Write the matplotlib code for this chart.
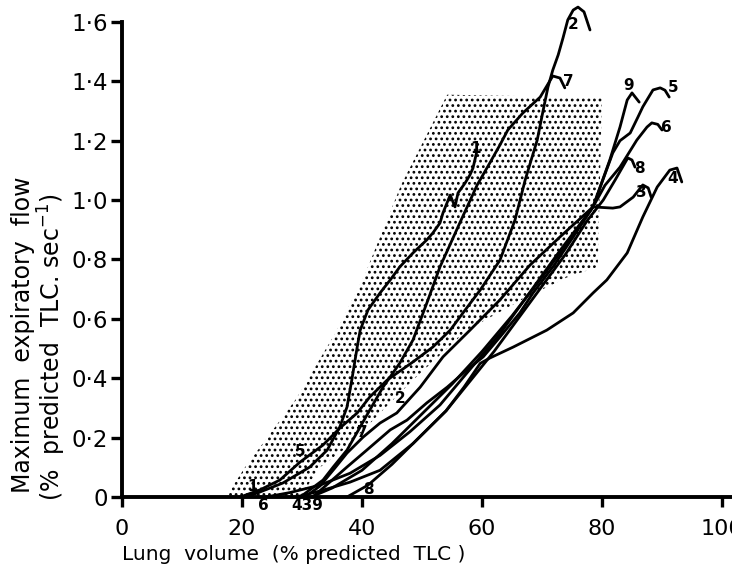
import matplotlib
matplotlib.use("Agg")
import matplotlib.pyplot as plt
from matplotlib.patches import Polygon

# ---------------- data ----------------
# curve 1
c1_x = [20.5, 22.5, 26.8, 31.3, 34.2, 36.3, 37.5, 38.3, 39.2, 39.7, 41.0, 43.0, 44.7, 46.3,
        48.5, 50.8, 51.8, 53.0, 53.5, 54.7, 55.5, 56.0, 57.2, 58.0, 58.5, 59.2]
c1_y = [0.0, 0.013, 0.047, 0.101, 0.158, 0.236, 0.303, 0.394, 0.505, 0.562, 0.630, 0.687, 0.731, 0.775,
        0.822, 0.866, 0.889, 0.923, 0.957, 1.017, 0.977, 1.024, 1.058, 1.085, 1.108, 1.169]
# curve 2
c2_x = [19.7, 23.0, 26.3, 29.7, 33.5, 36.3, 39.2, 41.3, 44.2, 48.5, 51.8, 54.7, 57.2, 59.7,
        63.0, 65.5, 67.2, 69.2, 70.2, 71.0, 71.8, 72.7, 73.5, 74.3, 75.2, 76.0, 77.0, 78.0]
c2_y = [0.0, 0.024, 0.057, 0.118, 0.175, 0.232, 0.283, 0.337, 0.394, 0.455, 0.505, 0.562, 0.630, 0.697,
        0.798, 0.933, 1.068, 1.202, 1.303, 1.381, 1.438, 1.489, 1.546, 1.607, 1.640, 1.650, 1.634, 1.573]
# curve 3
c3_x = [30.5, 33.0, 35.5, 37.5, 40.2, 43.0, 45.8, 49.7, 53.5, 58.0, 63.0, 68.0, 73.0, 78.5,
        81.8, 83.0, 85.2, 86.8, 87.7, 88.2]
c3_y = [0.0, 0.037, 0.098, 0.148, 0.202, 0.249, 0.283, 0.370, 0.472, 0.562, 0.664, 0.781, 0.876, 0.977,
        0.973, 0.977, 1.010, 1.051, 1.041, 1.010]
# curve 4
c4_x = [29.0, 33.0, 38.0, 43.0, 48.5, 54.0, 57.0, 59.7, 61.3, 65.2, 70.8, 75.2, 78.5, 80.8,
        84.2, 86.8, 89.2, 91.3, 92.5, 93.3]
c4_y = [0.0, 0.02, 0.05, 0.09, 0.18, 0.29, 0.37, 0.45, 0.468, 0.505, 0.562, 0.62, 0.687, 0.731,
        0.822, 0.943, 1.044, 1.101, 1.108, 1.061]
# curve 5
c5_x = [31.5, 35.0, 40.0, 45.0, 50.0, 55.0, 60.0, 65.0, 70.0, 74.0, 78.5, 80.0, 81.8, 83.0,
        84.7, 86.0, 86.8, 88.5, 89.7, 90.5, 91.2]
c5_y = [0.0, 0.03, 0.09, 0.18, 0.28, 0.38, 0.49, 0.61, 0.74, 0.85, 0.977, 1.06, 1.159, 1.20,
        1.226, 1.28, 1.314, 1.371, 1.378, 1.37, 1.347]
# curve 6
c6_x = [24.0, 28.0, 33.0, 38.0, 43.0, 48.0, 53.0, 58.0, 63.0, 68.0, 73.0, 78.5, 80.5, 83.0,
        85.8, 87.5, 88.3, 89.3, 90.0]
c6_y = [0.0, 0.015, 0.04, 0.08, 0.14, 0.22, 0.31, 0.43, 0.55, 0.69, 0.83, 0.977, 1.05, 1.111,
        1.202, 1.246, 1.26, 1.255, 1.236]
# curve 7
c7_x = [29.7, 31.3, 33.5, 35.2, 37.5, 39.7, 41.3, 43.5, 46.3, 48.5, 50.8, 53.0, 56.3, 59.2,
        61.3, 63.0, 64.3, 66.8, 69.7, 71.8, 73.0, 73.8]
c7_y = [0.0, 0.024, 0.057, 0.101, 0.158, 0.236, 0.293, 0.370, 0.451, 0.529, 0.653, 0.775, 0.923, 1.051,
        1.125, 1.186, 1.236, 1.293, 1.347, 1.418, 1.411, 1.378]
# curve 8
c8_x = [37.5, 41.0, 45.0, 49.0, 54.0, 58.0, 62.0, 66.0, 70.0, 74.0, 77.5, 80.2, 82.2, 84.3, 85.0, 85.5]
c8_y = [0.0, 0.04, 0.11, 0.19, 0.29, 0.39, 0.49, 0.60, 0.71, 0.82, 0.93, 1.0, 1.068, 1.142, 1.135, 1.111]
# curve 9
c9_x = [31.8, 37.5, 40.8, 44.7, 47.5, 50.8, 54.2, 57.5, 60.2, 63.0, 66.3, 68.5, 72.0, 75.0, 78.5,
        81.3, 83.0, 84.2, 85.0, 86.2]
c9_y = [0.0, 0.101, 0.158, 0.226, 0.259, 0.317, 0.370, 0.428, 0.472, 0.539, 0.620, 0.687, 0.78, 0.87, 0.977,
        1.135, 1.246, 1.337, 1.361, 1.33]

# normal range (stippled area)
shade_x = [17.3, 20.5, 29.0, 35.5, 40.5, 46.5, 54.2, 80.0, 79.3, 74.2, 67.5, 57.5, 48.5, 43.0, 37.5, 33.0, 29.7]
shade_y = [0.0, 0.10, 0.33, 0.55, 0.75, 1.05, 1.355, 1.345, 0.775, 0.74, 0.674, 0.562, 0.394, 0.283, 0.168, 0.10, 0.0]

# curve number labels
label_text = ["2", "7", "9", "5", "6", "8", "3", "4", "1", "2", "7", "5", "1", "6", "439", "8"]
label_x = [75.2, 74.4, 84.5, 91.8, 90.8, 86.3, 86.6, 91.8, 58.9, 46.3, 40.0, 29.7, 21.7, 23.5, 30.8, 41.0]
label_y = [1.59, 1.40, 1.385, 1.378, 1.243, 1.108, 1.024, 1.074, 1.175, 0.333, 0.216, 0.152, 0.034, -0.027,
           -0.027, 0.024]

xticks = [0, 20, 40, 60, 80, 100]
xtick_labels = ["0", "20", "40", "60", "80", "100"]
yticks = [0, 0.2, 0.4, 0.6, 0.8, 1.0, 1.2, 1.4, 1.6]
ytick_labels = ["0", "0·2", "0·4", "0·6", "0·8", "1·0", "1·2", "1·4", "1·6"]

# ---------------- drawing ----------------
plt.rcParams['font.family'] = ['DejaVu Sans']
plt.rcParams['hatch.linewidth'] = 1.2
plt.rcParams['hatch.color'] = 'black'

fig = plt.figure(figsize=(7.32, 5.66), dpi=100)
ax = fig.add_axes([122 / 732, 69 / 566, 609 / 732, 481 / 566])
ax.set_xlim(0, 101.5)
ax.set_ylim(0, 1.62)

shade = Polygon(list(zip(shade_x, shade_y)), closed=True, facecolor='none',
                edgecolor='black', hatch='...', linewidth=0, zorder=1)
ax.add_patch(shade)

curves = [(c1_x, c1_y), (c2_x, c2_y), (c3_x, c3_y), (c4_x, c4_y), (c5_x, c5_y),
          (c6_x, c6_y), (c7_x, c7_y), (c8_x, c8_y), (c9_x, c9_y)]
for cx, cy in curves:
    ax.plot(cx, cy, color='black', lw=2.0, solid_capstyle='round',
            solid_joinstyle='round', zorder=3, clip_on=False)

for t, lx, ly in zip(label_text, label_x, label_y):
    ax.text(lx, ly, t, fontsize=11, fontweight='bold', ha='center', va='center',
            zorder=4, clip_on=False)

for s in ['top', 'right']:
    ax.spines[s].set_visible(False)
ax.spines['left'].set_linewidth(2.8)
ax.spines['bottom'].set_linewidth(2.8)
ax.spines['left'].set_bounds(0, 1.6)

ax.set_xticks(xticks)
ax.set_xticklabels(xtick_labels)
ax.set_yticks(yticks)
ax.set_yticklabels(ytick_labels)
ax.tick_params(axis='x', direction='out', length=7, width=2.4, pad=9, labelsize=16)
ax.tick_params(axis='y', direction='out', length=8, width=2.4, pad=2, labelsize=16.5)

fig.text(122 / 732, 2 / 566, "Lung  volume  (% predicted  TLC )", fontsize=14.5,
         ha='left', va='bottom')
fig.text(23 / 732, 1 - 335 / 566, "Maximum  expiratory  flow", fontsize=17,
         rotation=90, ha='center', va='center')
fig.text(52 / 732, 1 - 347 / 566, r"(%  predicted  TLC. sec$^{-1}$)", fontsize=17,
         rotation=90, ha='center', va='center')

fig.savefig("out.png", dpi=100)
